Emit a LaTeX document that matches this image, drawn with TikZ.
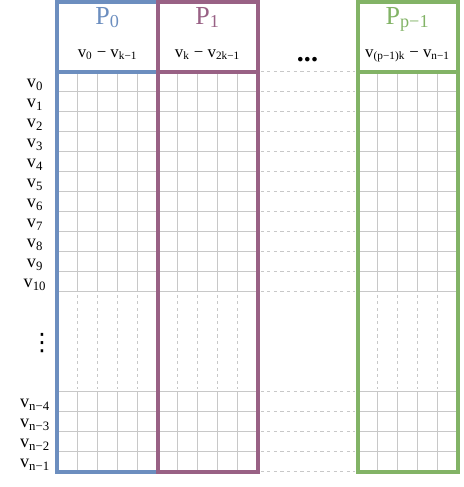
\documentclass[tikz,border=0pt]{standalone}
\usepackage{fontspec}
\setmainfont{Liberation Serif}
\newfontfamily\symbolfont{DejaVu Sans}
\usepackage{tikz}
\usetikzlibrary{positioning}

\definecolor{pblue}{HTML}{6C8EBF}
\definecolor{ppurple}{HTML}{996185}
\definecolor{pgreen}{HTML}{82B366}
\definecolor{cellgray}{RGB}{200,200,200}

\begin{document}
\begin{tikzpicture}
	[x=0.5cm, y=0.5cm,
	every node/.style={inner sep=0pt},
	procbox/.style = {line width=0.1cm},
	cellline/.style = {draw=cellgray, line width=0.6pt},
	gapline/.style = {cellline, dash pattern=on 0.083cm off 0.083cm},
	proctitle/.style = {anchor=base, font=\fontsize{18.5}{22}\selectfont},
	vrange/.style = {anchor=base, font=\fontsize{12}{14}\selectfont},
	rowlabel/.style = {anchor=base, font=\fontsize{13}{15}\selectfont}
	]
	\useasboundingbox (-2.875,-20.775) rectangle (20.325,3.575);

	% cells of P_0, P_1 and P_{p-1}
	\foreach \c in {0,5,15} {
		\foreach \r in {1,...,11,16,17,18,19}
			\draw[cellline] (\c,-\r) -- ++(5,0);
		\foreach \k in {1,...,4} {
			\draw[cellline] (\c+\k,0) -- ++(0,-11);
			\draw[gapline] (\c+\k,-11.15) -- (\c+\k,-15.85);
			\draw[cellline] (\c+\k,-16) -- ++(0,-4);
		}
	}
	\foreach \r in {0,1,...,11,16,17,...,20}
		\draw[gapline] (10.15,-\r) -- (14.85,-\r);

	\draw[procbox, pblue] (0,-20) rectangle (5,3.5) (0,0) -- (5,0);
	\draw[procbox, ppurple] (5,-20) rectangle (10,3.5) (5,0) -- (10,0);
	\draw[procbox, pgreen] (15,-20) rectangle (20,3.5) (15,0) -- (20,0);

	\node[proctitle, text=pblue] (p0) at (2.5,2.375) {P\textsubscript{0}};
	\node[proctitle, text=ppurple] (p1) at (7.5,2.375) {P\textsubscript{1}};
	\node[proctitle, text=pgreen] (plast) at (17.5,2.375) {P\textsubscript{p−1}};
	\node[vrange] (r0) at (2.5,0.725) {v\textsubscript{0} − v\textsubscript{k−1}};
	\node[vrange] (r1) at (7.5,0.725) {v\textsubscript{k} − v\textsubscript{2k−1}};
	\node[vrange] (rlast) at (17.5,0.725) {v\textsubscript{(p−1)k} − v\textsubscript{n−1}};
	\node[vrange, font=\fontsize{20}{24}\bfseries] (hdots) at (12.5,0.49) {...};

	\foreach \i in {0,...,10}
		\node[rowlabel] (v\i) at (-1.125,-\i-0.8) {v\textsubscript{\i}};
	\foreach \i/\r in {4/16,3/17,2/18,1/19}
		\node[rowlabel] (vn\i) at (-1.125,-\r-0.8) {v\textsubscript{n−\i}};
	\node[font=\fontsize{17}{20}\symbolfont] (vdots) at (-0.775,-13.575) {⋮};
\end{tikzpicture}
\end{document}
